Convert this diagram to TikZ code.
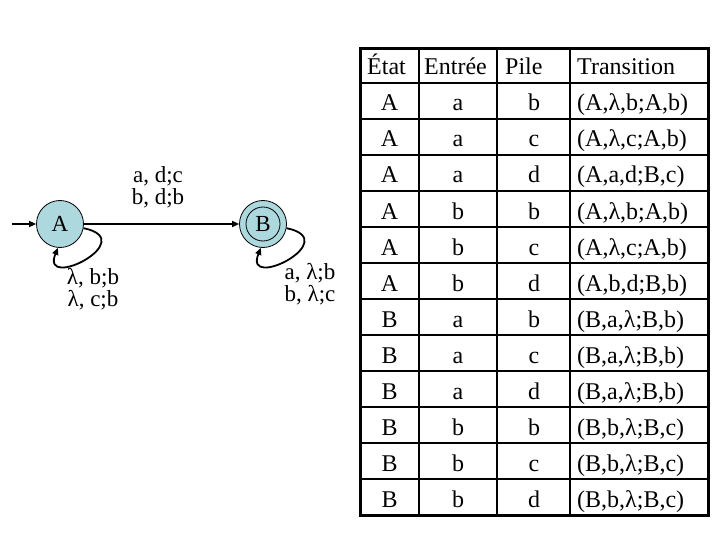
\documentclass[tikz,border=0pt]{standalone}
\usepackage{fontspec}
\setmainfont{Liberation Serif}
\usetikzlibrary{arrows.meta}
\definecolor{statefill}{RGB}{173,216,222}
\begin{document}
\begin{tikzpicture}[x=1pt,y=-1pt,
  state/.style={circle,draw=black,line width=0.8pt,fill=statefill,minimum size=47pt,inner sep=0pt,font=\fontsize{23}{23}\selectfont},
  edge/.style={line width=1.8pt,-{Triangle[length=7pt,width=6pt]}},
  lbl/.style={align=center,font=\fontsize{23}{22}\selectfont,inner sep=0pt},
  cell/.style={anchor=base,inner sep=0pt,font=\fontsize{24}{26}\selectfont},
  hcell/.style={cell,anchor=base west},
  inner/.style={line width=2pt},
  outer/.style={line width=3pt}]
\fill[white] (0,0) rectangle (720,540);
\useasboundingbox (0,0) rectangle (720,540);
% automaton
\node[state] (A) at (60,224) {A};
\node[state] (B) at (263,224) {B};
\draw[line width=0.8pt] (B.center) circle[radius=17];
\coordinate (start) at (12,224);
\draw[edge] (start) -- (A);
\draw[edge] (A) -- (B);
\draw[edge] (A.-10) .. controls +(58,12) and +(-18,44) .. (A.-95);
\draw[edge] (B.-10) .. controls +(58,12) and +(-18,44) .. (B.-95);
\node[lbl] (lab) at (158,187) {a, d;c\\b, d;b};
\node[lbl] (la) at (93,289) {λ, b;b\\λ, c;b};
\node[lbl] (lb) at (310,284) {a, λ;b\\b, λ;c};
% table
\foreach \k in {0,...,11} \draw[inner] (360,{83+36*\k}) -- (708,{83+36*\k});
\foreach \c in {419,497,570} \draw[inner] (\c,49) -- (\c,515);
\draw[outer] (360,49) rectangle (708,515);
\node[hcell] (h1) at (367,75) {État};
\node[hcell] (h2) at (424,75) {Entrée};
\node[hcell] (h3) at (505,75) {Pile};
\node[hcell] (h4) at (577,75) {Transition};
\foreach \s/\e/\p/\t [count=\i] in {
  A/a/b/{(A,λ,b;A,b)},
  A/a/c/{(A,λ,c;A,b)},
  A/a/d/{(A,a,d;B,c)},
  A/b/b/{(A,λ,b;A,b)},
  A/b/c/{(A,λ,c;A,b)},
  A/b/d/{(A,b,d;B,b)},
  B/a/b/{(B,a,λ;B,b)},
  B/a/c/{(B,a,λ;B,b)},
  B/a/d/{(B,a,λ;B,b)},
  B/b/b/{(B,b,λ;B,c)},
  B/b/c/{(B,b,λ;B,c)},
  B/b/d/{(B,b,λ;B,c)}}{
  \node[cell] (s\i) at (389.5,{75+36*\i}) {\s};
  \node[cell] (e\i) at (458,{75+36*\i}) {\e};
  \node[cell] (p\i) at (534,{75+36*\i}) {\p};
  \node[hcell] (t\i) at (577,{75+36*\i}) {\t};
}
\end{tikzpicture}
\end{document}
